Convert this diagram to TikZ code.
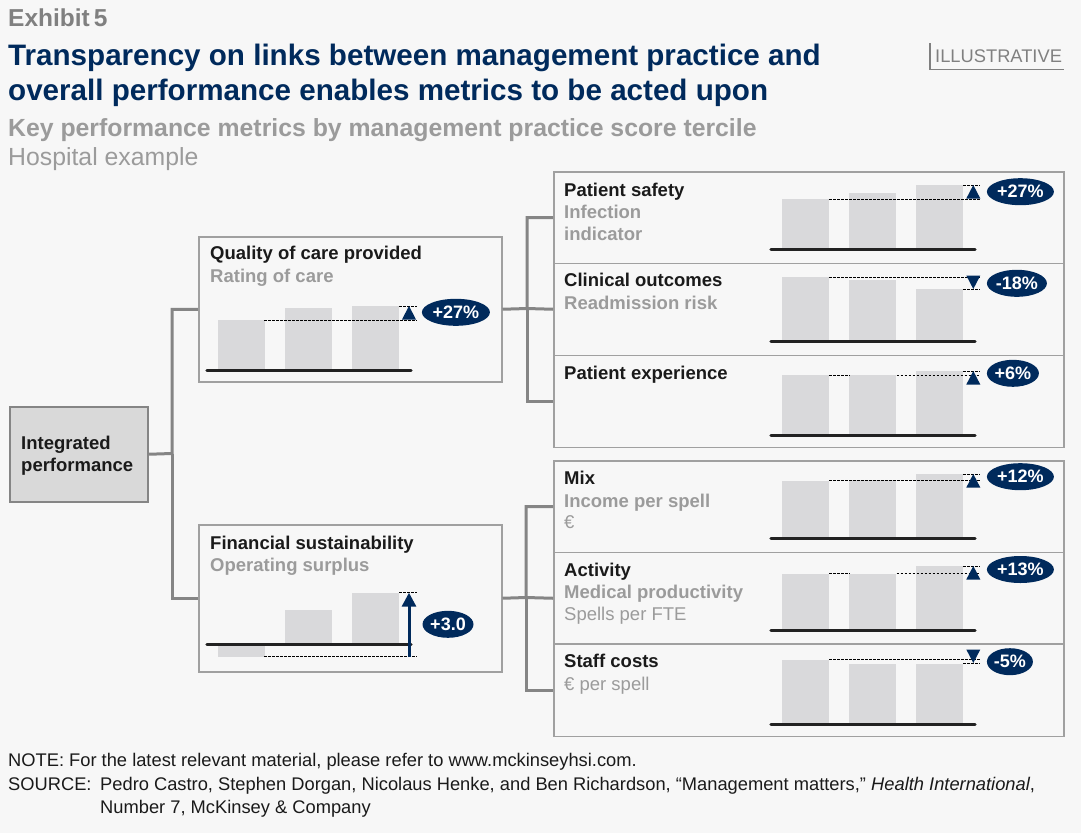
\documentclass[tikz,border=0pt]{standalone}
\usepackage{fontspec}
\setmainfont{Liberation Sans}
\usetikzlibrary{shapes.geometric,arrows.meta}
\definecolor{bg}{HTML}{F7F7F7}
\definecolor{navy}{HTML}{002A5C}
\definecolor{exgray}{HTML}{808080}
\definecolor{subgray}{HTML}{9B9B9B}
\definecolor{boxline}{HTML}{A0A0A0}
\definecolor{connc}{HTML}{858585}
\definecolor{intfill}{HTML}{D9D9D9}
\definecolor{barc}{HTML}{D9D9DB}
\definecolor{basec}{HTML}{222222}
\definecolor{darktext}{HTML}{1A1A1A}
\newcommand\fs[1]{\fontsize{#1}{#1}\selectfont}
\newcommand\mybars[5]{%
 \fill[barc] (#1,#2) rectangle ({#1+46.7},#3);
 \fill[barc] ({#1+67},#2) rectangle ({#1+113.7},#4);
 \fill[barc] ({#1+134},#2) rectangle ({#1+180.7},#5);
 \draw[basel] ({#1-11.3},#2) -- ({#1+192.7},#2);
}
\newcommand\uptri[2]{\fill[navy] ({#1-7},{#2+13.5}) -- (#1,#2) -- ({#1+7},{#2+13.5}) -- cycle;}
\newcommand\downtri[2]{\fill[navy] ({#1-7},{#2-13.5}) -- (#1,#2) -- ({#1+7},{#2-13.5}) -- cycle;}
\tikzset{
 box/.style={draw=boxline, line width=1.5pt, fill=bg, anchor=north west, inner sep=0pt},
 conn/.style={draw=connc, line width=3pt},
 basel/.style={draw=basec, line width=3.2pt, line cap=round},
 dsh/.style={draw=black, line width=0.8pt, dash pattern=on 2.5pt off 1.5pt},
 head/.style={anchor=base west, inner sep=0pt, text=darktext, font=\bfseries\fs{18.5}},
 subb/.style={anchor=base west, inner sep=0pt, text=subgray, font=\bfseries\fs{18.5}},
 subr/.style={anchor=base west, inner sep=0pt, text=subgray, font=\fs{18.5}},
 foot/.style={anchor=base west, inner sep=0pt, text=darktext, font=\fs{18.3}},
 pill/.style={ellipse, fill=navy, text=white, font=\bfseries\fs{18}, inner sep=0pt, minimum height=27pt, anchor=west},
}
\begin{document}
\begin{tikzpicture}[x=1pt,y=-1pt]
\useasboundingbox (0,0) rectangle (1081,833);
\fill[bg] (0,0) rectangle (1081,833);

% header
\node[anchor=base west, inner sep=0pt, text=exgray, font=\bfseries\fs{24.5}] (exh) at (8,26.7) {Exhibit\,5};
\node[anchor=base west, inner sep=0pt, text=navy, font=\bfseries\fs{29.6}] (t1) at (8,65) {Transparency on links between management practice and};
\node[anchor=base west, inner sep=0pt, text=navy, font=\bfseries\fs{29.6}] (t2) at (8,100) {overall performance enables metrics to be acted upon};
\node[anchor=base west, inner sep=0pt, text=subgray, font=\bfseries\fs{24.8}] (st1) at (8,136.7) {Key performance metrics by management practice score tercile};
\node[anchor=base west, inner sep=0pt, text=subgray, font=\fs{24.8}] (st2) at (8,165.7) {Hospital example};
\node[anchor=base west, inner sep=0pt, text=exgray, font=\fs{18.3}] (ill) at (935,62.3) {ILLUSTRATIVE};
\draw[exgray, line width=1.5pt] (930,43.3) -- (930,69.3) -- (1064,69.3);

% boxes
\node[box, fill=intfill, draw=connc, minimum width=138pt, minimum height=95pt] (int) at (9,406) {};
\node[box, minimum width=303pt, minimum height=145pt] (qual) at (198,236) {};
\node[box, minimum width=303pt, minimum height=147pt] (fin) at (198,524) {};
\node[box, minimum width=510pt, minimum height=91.5pt] (p1) at (553,171) {};
\node[box, minimum width=510pt, minimum height=92pt] (p2) at (553,262.5) {};
\node[box, minimum width=510pt, minimum height=92pt] (p3) at (553,354.5) {};
\node[box, minimum width=510pt, minimum height=91.7pt] (p4) at (553,460) {};
\node[box, minimum width=510pt, minimum height=91.6pt] (p5) at (553,551.7) {};
\node[box, minimum width=510pt, minimum height=92.4pt] (p6) at (553,643.3) {};

% connectors
\coordinate (j1) at (172,453.5);
\coordinate (j2) at (527,308.5);
\coordinate (j3) at (526,597.5);
\draw[conn] (int.east) -- (j1) |- (qual.west);
\draw[conn] (j1) |- (fin.west);
\draw[conn] (qual.east) -- (j2) |- (p1.west);
\draw[conn] (j2) -- (p2.west);
\draw[conn] (j2) |- (p3.west);
\draw[conn] (fin.east) -- (j3) |- (p4.west);
\draw[conn] (j3) -- (p5.west);
\draw[conn] (j3) |- (p6.west);

% texts
\node[head] (ia) at (21,449) {Integrated};
\node[head] (ib) at (21,471.7) {performance};
\node[head] (qa) at (210,259.3) {Quality of care provided};
\node[subb] (qb) at (210,282) {Rating of care};
\node[head] (fa) at (210,549.3) {Financial sustainability};
\node[subb] (fb) at (210,571.7) {Operating surplus};
\node[head] (p1a) at (564,196) {Patient safety};
\node[subb] (p1b) at (564,218.3) {Infection};
\node[subb] (p1c) at (564,240) {indicator};
\node[head] (p2a) at (564,286.7) {Clinical outcomes};
\node[subb] (p2b) at (564,309.3) {Readmission risk};
\node[head] (p3a) at (564,379) {Patient experience};
\node[head] (p4a) at (564,484) {Mix};
\node[subb] (p4b) at (564,507.3) {Income per spell};
\node[subr] (p4c) at (564,528.3) {€};
\node[head] (p5a) at (564,576.7) {Activity};
\node[subb] (p5b) at (564,598.3) {Medical productivity};
\node[subr] (p5c) at (564,620.7) {Spells per FTE};
\node[head] (p6a) at (564,667.3) {Staff costs};
\node[subr] (p6b) at (564,690.7) {€ per spell};

% quality chart
\mybars{218.3}{370.5}{320}{308.3}{306}
\draw[dsh] (264.3,320) -- (416.7,320);
\draw[dsh] (399,306) -- (416.7,306);
\uptri{409}{306}
\node[pill, minimum width=68pt] (qv) at (421.7,312.3) {+27\%};

% financial chart
\mybars{218.3}{644.3}{656.7}{610}{592.7}
\draw[dsh] (264.3,656.7) -- (416.7,656.7);
\draw[dsh] (399,592.7) -- (416.7,592.7);
\draw[navy, line width=3pt, -{Triangle[width=14pt,length=14pt]}] (409,657) -- (409,592.7);
\node[pill, minimum width=51pt] (fv) at (422.3,624.3) {+3.0};

% p1
\mybars{782.3}{249.3}{199}{192.7}{185}
\draw[dsh] (829,199) -- (980,199);
\draw[dsh] (963.3,185) -- (980,185);
\uptri{973.3}{185}
\node[pill, minimum width=67pt] (v1) at (986.7,191.7) {+27\%};

% p2
\mybars{782.3}{341.7}{277.3}{280}{289}
\draw[dsh] (829,277.3) -- (980,277.3);
\draw[dsh] (963.3,289) -- (980,289);
\downtri{973.3}{289}
\node[pill, minimum width=60pt] (v2) at (986.7,283.3) {-18\%};

% p3
\mybars{782.3}{435.7}{375}{375}{371}
\draw[dsh] (829,375) -- (849.3,375);
\draw[dsh] (896.7,375) -- (980,375);
\draw[dsh] (963.3,371) -- (980,371);
\uptri{973.3}{371}
\node[pill, minimum width=52pt] (v3) at (986.7,373.3) {+6\%};

% p4
\mybars{782.3}{538.3}{480.7}{480}{474}
\draw[dsh] (829,480.7) -- (980,480.7);
\draw[dsh] (963.3,474) -- (980,474);
\uptri{973.3}{474}
\node[pill, minimum width=67pt] (v4) at (986.7,476.7) {+12\%};

% p5
\mybars{782.3}{630.5}{573.5}{573.5}{566}
\draw[dsh] (829,573.5) -- (849.3,573.5);
\draw[dsh] (896.7,573.5) -- (980,573.5);
\draw[dsh] (963.3,566) -- (980,566);
\uptri{973.3}{566}
\node[pill, minimum width=67pt] (v5) at (986.7,569.5) {+13\%};

% p6
\mybars{782.3}{724.3}{660}{664}{664}
\draw[dsh] (829,659.5) -- (980,659.5);
\draw[dsh] (963.3,663) -- (980,663);
\downtri{973.3}{663}
\node[pill, minimum width=46pt] (v6) at (986.7,661.7) {-5\%};

% footer
\node[foot] (note) at (8,766.7) {NOTE: For the latest relevant material, please refer to www.mckinseyhsi.com.};
\node[foot] (src) at (8,790.7) {SOURCE:};
\node[foot] (src1) at (100,790.7) {Pedro Castro, Stephen Dorgan, Nicolaus Henke, and Ben Richardson, “Management matters,” \textit{Health International},};
\node[foot] (src2) at (100,813) {Number 7, McKinsey \& Company};
\end{tikzpicture}
\end{document}
